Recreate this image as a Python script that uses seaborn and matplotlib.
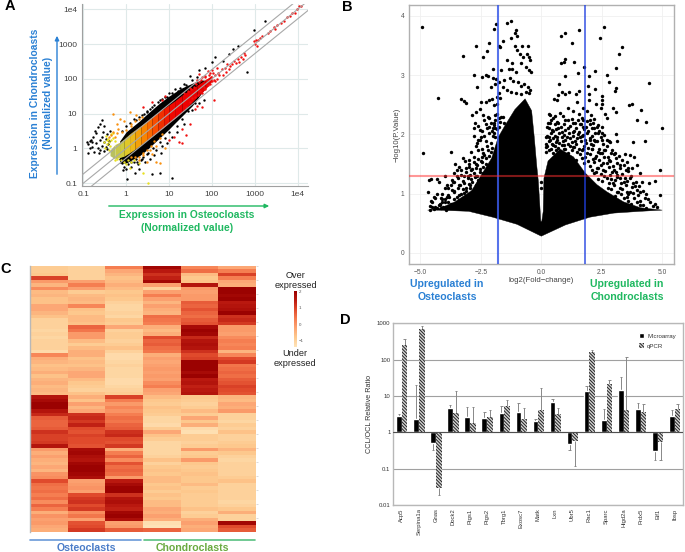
import numpy as np
import pandas as pd
import matplotlib
matplotlib.use("Agg")
import matplotlib.pyplot as plt
import seaborn as sns
from matplotlib.colors import LinearSegmentedColormap

# ---------- Panel A data ----------
grid_ticks_a = [0.1, 1, 10, 100, 1000, 10000]
grid_labels_a = ['0.1', '1', '10', '100', '1000', '1e4']
halo_x = [.7, 1, 1.5, 2, 3, 6, 10, 14, 20, 35, 60, 85]
halo_lo = [.38, .38, .5, .6, .9, 2, 3.6, 5.5, 8.5, 17, 42, 75]
halo_hi = [1.6, 3, 4.5, 6, 9.5, 20, 32, 42, 55, 75, 92, 90]
core_x = [.42, .55, .7, .9, 1.2, 1.6, 2.2, 3, 4, 5.5, 7.5, 10, 14, 20, 30, 45, 70, 100]
core_lo = [.62, .5, .55, .6, .75, .95, 1.25, 1.7, 2.2, 3, 4, 5.5, 7.5, 11, 18, 30, 50, 85]
core_hi = [.9, 1.3, 1.5, 1.9, 2.6, 3.4, 4.5, 6, 8, 11, 14, 18, 24, 34, 48, 65, 95, 125]
core_colors = ['#b8c060', '#c8c848', '#d0cc40', '#e0c828', '#ecb818', '#f4a008', '#f88400', '#f86800',
               '#f84c00', '#f03000', '#f01800', '#f00800', '#ee0000', '#ee0000', '#e80000', '#e80000', '#e80000']
black_x = [.13, .14, .12, .15, .17, .16, .18, .2, .2, .22, .24, .22, .25, .27, .27, .29, .3, .3, .33, .33, .28, .35, .36, .38, .4, .19, .16, .14, .24, .3, .42, .23, .13,
           .7, .8, .9, 1, .85, .95, 1.1, 1.2, 1.3, 1.5, 1.6, 1.7, 1.9, 2, 2.2, 2.5, 2.8, 3, 3.5, 4.5, 5, 6, 12, 1.05, 4, 7, 6.5, 9, 12, 15, 22, 35, 50, 65,
           .8, 1, 1.2, 1.5, 2, 2.6, 3, 3.5, 4.5, 6, 8, 10, 14, 22, 30, 50, 70, 115, 180, 310, 640, 950, 1700, 400, 250, 100,
           16, 25, 35, 45, 15, 20, 28, 40, 18, 12, 9, 7, 5.5, 4, 3, 2.3, 1.7, 8, 10, 6, 4.2, 3.2, 2.4, 1.8, 1.3]
black_y = [1.3, 1.0, 1.5, 1.8, 2.2, 1.1, .8, 1.4, 2.8, 4, 1.7, 1.0, .9, 1.2, 2.1, 3, 1.5, .85, 1.1, 1.9, 6.5, 2.6, .95, 1.3, 1.6, 3.2, 1.5, 1.6, 5.2, 4.5, 3.2, .75, .75,
           .5, .38, .3, .25, .24, .45, .35, .55, .3, .4, .2, .5, .35, .25, .45, .55, .4, .7, .5, .65, .9, .2, .14, .13, .18, 1.2, .75, 1.4, 2.2, 3, 5, 13, 20, 25,
           3.2, 4.5, 5.5, 7, 8, 10, 12, 14, 18, 24, 30, 38, 50, 70, 120, 175, 200, 420, 330, 730, 155, 2590, 4600, 900, 530, 300,
           45, 65, 90, 110, 4.5, 7, 12, 20, 55, 40, 30, 26, 22, 15, 11, 9, 6.5, 2, 3, 1.5, 1.0, .75, .5, .42, .4]
orange_x = [.5, .6, .7, .9, 1.2, 1.7, .5, .45, .65, .4, 1.3, 2, 2.5, 3, 4, 5, 6, 3.5, 5, 8,
            .55, .6, .8, 1, 1.3, 1.6, 2, 2.4, 3, 2.5, 2, 1.6, 1.3, 3.8, 4.5, 6, 7]
orange_y = [9.5, 5, 7, 6, 11, 9, 3, 2.4, 3.6, 2.2, 4.5, .45, .65, .4, .7, .4, .38, .9, 1.2, 1,
            2.2, 2.8, 3, 3.4, 5, 6, 7, 8, .9, .75, .55, .55, .55, 1.2, 1.6, 2, 2.6]
yellow_x = [.3, .35, .38, .42, .45, .33, .4, .55, .7, 1, 1.5, 2, 1.2, 2.5, .5, 3.3,
            .32, .36, .4, .44, .48, .5, .6, .75, .9, 1.1, 1.3, .55]
yellow_y = [1.5, 1.3, 1.9, 1.2, 2.6, 2.3, .9, .45, .6, .35, .45, .38, .28, .2, 2.8, .1,
            1.0, 1.7, 1.5, 1.8, 2.0, .7, .5, .45, .42, .48, .42, 1.6]
red_x = [2.5, 4, 7, 8, 17, 20, 25, 20, 13, 10, 30, 40, 110, 60, 45, 30, 45, 70, 50, 80, 100, 130,
         110, 120, 130, 140, 150, 170, 180, 200, 210, 230, 250, 270, 300, 330, 360, 400, 430, 480, 520, 560, 600,
         950, 1000, 1050, 1100, 1200, 1300, 1500, 2000, 2300, 2800, 3000, 3300, 4000, 4800, 5500, 6500, 7500, 8500, 9500, 11000, 12000,
         22, 25, 28, 30, 33, 35, 38, 40, 43, 48, 50, 52, 55, 60, 65, 68, 70, 75, 80, 85, 90, 95, 100, 105, 120, 90, 60, 40]
red_y = [15, 22, 25, 32, 1.5, 1.4, 2.5, 3.5, 2.2, 1.8, 5, 14, 25, 15, 17, 55, 90, 120, 140, 170, 180, 210,
         95, 130, 100, 150, 125, 190, 130, 210, 160, 260, 190, 240, 260, 330, 290, 360, 310, 420, 380, 560, 480,
         1200, 1000, 1300, 900, 1300, 1500, 1700, 2100, 2300, 3000, 2700, 3600, 4100, 4500, 6000, 6200, 7800, 8000, 10000, 12000, 12500,
         40, 16, 45, 22, 50, 28, 60, 30, 70, 35, 80, 45, 95, 40, 60, 110, 50, 90, 65, 130, 70, 110, 85, 150, 85, 150, 110, 75]
guide_x = [0.05, 20000]
guide_fold = [0.53, 1, 1.85]

# ---------- Panel B data ----------
solid_x = [-4.7, -4.26, -3.57, -2.88, -2.47, -2.05, -1.78, -1.5, -1.09, -.67, -.4, -.29, -.19, -.12, -.02, .02, .08, .11, .28, .78, 1.33, 1.81, 2.3, 2.71, 3.4, 4.1, 5.0,
           4.1, 3, 2, 1, 0, -1, -2, -3, -4.3]
solid_y = [.72, .74, .86, 1.05, 1.32, 1.6, 1.95, 2.15, 2.42, 2.6, 2.4, 1.95, 1.48, 1.2, .53, .53, .7, 1.26, 1.55, 1.75, 1.62, 1.35, 1.15, 1.03, .86, .76, .72,
           .70, .67, .60, .47, .28, .48, .60, .70, .72]
volcano_left_top_x = [-4.92, -4.26, -4.9, -3.23, -3.3, -3.2, -3.13, -3.72, -2.68, -2.4, -2.24, -2.15, -1.95, -1.88, -1.4, -1.24, -1.03, -1.08, -.99, -1.24, -1.58, -1.75, -1.72, -1.1, -1.02, -.8, -.88, -.77, -.55, -.6, -.5, -.45, -1.42, -1.2, -.85, -.62, -.52, -.42, -2.0, -1.65, -1.35, -1.2, -1.05, -2.77, -2.45, -2.3, -2.2, -1.98, -1.88, -1.75, -1.55, -1.3, -1.15, -.95, -.85, -.7, -.55, -.45, -2.1, -1.9, -2.65, -1.75, -1.6, -1.4, -1.25, -1.05, -.85, -.65, -.5,
             -2.5, -2.3, -2.15, -2.05, -1.95, -1.85, -1.7, -1.85, -2.55, -2.7, -2.85, -2.75, -2.78, -2.2, -2.55, -1.95, -2.0, -1.82, -1.65]
volcano_left_top_y = [3.82, 2.61, 1.68, 3.33, 2.6, 2.57, 2.53, 1.7, 3.49, 3.3, 3.4, 3.55, 3.78, 3.86, 3.88, 3.91, 3.77, 3.72, 3.66, 3.62, 3.57, 3.5, 3.48, 3.5, 3.42, 3.5, 3.35, 3.3, 3.5, 3.35, 3.3, 3.25, 3.25, 3.2, 3.2, 3.13, 3.09, 3.05, 3.1, 3.08, 3.1, 3.1, 3.05, 3.0, 2.97, 3.0, 2.98, 2.95, 2.93, 2.88, 2.92, 2.95, 2.9, 2.88, 2.82, 2.85, 2.8, 2.75, 2.8, 2.85, 2.8, 2.7, 2.8, 2.75, 2.72, 2.7, 2.68, 2.72, 2.7,
             2.55, 2.55, 2.58, 2.6, 2.5, 2.52, 2.62, 2.63, 2.43, 2.38, 2.32, 2.2, 2.1, 2.3, 2.08, 2.2, 2.1, 2.35, 2.3]
volcano_left_low_x = [-2.8, -2.55, -2.65, -1.9, -1.85, -2.1, -2.0, -2.35, -2.5, -2.7, -2.85, -3, -3.15, -3.25, -3.4, -3.55, -3.05, -3.2, -2.95, -3.35, -3.5, -3.65, -3.75, -4.0, -4.25, -4.3, -4.0, -3.6, -3.3, -3.5, -3.9, -4.0, -4.3, -4.15, -3.85, -4.6, -4.5, -4.55, -4.7, -4.55, -4.65, -3, -2.8, -2.6, -2.4, -2.2, -2.3, -2.7, -3.1, -2.5, -3.4, -2.9, -3.7]
volcano_left_low_y = [1.97, 1.9, 1.85, 1.95, 1.8, 1.7, 1.55, 1.65, 1.55, 1.5, 1.42, 1.45, 1.55, 1.6, 1.45, 1.5, 1.3, 1.3, 1.15, 1.15, 1.3, 1.2, 1.15, 1.3, 1.2, 1.24, 1.1, 1.05, 1.0, .95, .95, .9, 1.0, .92, .85, .72, .78, .88, 1.03, 1.24, 1.23, .95, 1.05, 1.2, 1.35, 1.45, 1.2, 1.3, 1.1, 1.05, .8, .85, .78]
volcano_right_x = [2.6, 2.43, 1.55, .97, .83, 1.26, 3.33, 3.22, 1, .92, .83, 1.37, 3.07, 1.77, 1.52, .98, 2.24, 1.96, 2.7, 2.79, 4.47, .72, 1.95, 2.23, 3.11, 3.05, 1.56, 1.44, 1.16, .85, .71, .96, .52, .64, 1.96, 1.96, 2.53, 2.53, 2.53, 2.27, 3.74, 3.62, 2.98, 3.09, 4.11, 3.95, 4.32, 4.98, 3.81, 4.29, 3.11, 3.12, 2.51, 4.91, 4.71, 4.91, 3.47, 3.67, 3.84, 3.54, 3.95, 3.6, 3.74, 4.09, 3.26, 4.16, 3.81, 4.47, 4.29, 3.67, 3.88, 3.54, 4.09,
             .31, .57, .78, 1.12, 1.33, 1.47, 1.72, 1.88, 2.46, 2.64, 2.71, .36, .64, 1.12, 1.4, 1.74, 2.02, 2.36, 2.5, .43, .71, .98, 1.33, 1.74, 2.09, 1.74, 2.5, 2.23, .3, .64, 1.05, 1.47, 2.02, 2.23, 2.78, .2, .5, .92, 1.33, 1.74, 2.09, 2.64, 2.92, 3.05, 2.43, 2.23, 2.78, 2.57, 2.36, 2.92, 3.12, 2.16, 2.71, 3.26, 2.98, 3.4, 3.19, 3.6, -.02, -.03]
volcano_right_y = [3.81, 3.62, 3.76, 3.71, 3.66, 3.54, 3.47, 3.36, 3.28, 3.23, 3.21, 3.23, 3.12, 3.14, 3.04, 2.99, 3.07, 2.98, 3, 2.88, 2.86, 2.85, 2.81, 2.76, 2.78, 2.73, 2.73, 2.68, 2.71, 2.71, 2.67, 2.68, 2.6, 2.58, 2.68, 2.58, 2.65, 2.58, 2.52, 2.52, 2.52, 2.5, 2.44, 2.38, 2.41, 2.25, 2.21, 2.1, 1.87, 1.89, 2.01, 1.89, 1.9, 1.4, 1.22, .97, 1.67, 1.65, 1.62, 1.54, 1.49, 1.43, 1.43, 1.34, 1.48, 1.2, 1.17, 1.17, .92, 1.26, 1.12, 1.03, 1.03,
             2.34, 2.31, 2.36, 2.44, 2.4, 2.55, 2.45, 2.4, 2.44, 2.35, 2.27, 2.2, 2.21, 2.24, 2.19, 2.24, 2.24, 2.16, 2.13, 2.07, 2.1, 2.07, 2.04, 2.13, 2.1, 1.99, 2.02, 2.02, 1.96, 1.96, 1.96, 1.93, 1.9, 1.88, 1.88, 1.79, 1.82, 1.82, 1.79, 1.76, 1.76, 1.73, 1.73, 1.68, 1.68, 1.6, 1.57, 1.51, 1.43, 1.37, 1.31, 1.34, 1.26, 1.26, 1.17, 1.2, 1.03, 1.0, 1.2, 1.1]
speckle_right_x = [.35, .5, .9, 1.25, 1.55, 1.7, 2.05, 2.2,
                   .28, .42, .7, 1.0, 1.3, 1.5, 1.65, 1.9, 2.15,
                   .25, .55, .8, .95, 1.2, 1.45, 1.6, 1.85, 2.0, 2.3,
                   .3, .48, .62, .85, 1.1, 1.35, 1.58, 1.75, 1.95, 2.2, 2.4,
                   .22, .4, .55, .75, .92, 1.15, 1.3, 1.5, 1.7, 1.9, 2.1, 2.35, 2.6,
                   .2, .35, .5, .65, .85, 1.0, 1.2, 1.4, 1.6, 1.8, 2.0, 2.2, 2.45, 2.7,
                   .18, .3, .45, .6, .75, .9, 1.1, 1.25, 1.45, 1.65, 1.85, 2.05, 2.3, 2.55, 2.85,
                   .25, .4, .55, .7, .85, 1.0, 1.2, 1.35, 1.55, 1.75, 1.95, 2.15, 2.4, 2.7,
                   .2, .33, .48, .62, .78, .95, 1.12, 1.28, 1.48, 1.68, 1.88, 2.1, 2.35, 2.6, 2.9,
                   1.6, 1.8, 2.0, 2.25, 2.5, 2.75, 3.0, 3.2,
                   1.45, 1.7, 1.92, 2.15, 2.4, 2.6, 2.85, 3.1, 3.35,
                   1.75, 2.0, 2.2, 2.45, 2.7, 2.95, 3.15, 3.4,
                   2.1, 2.3, 2.55, 2.8, 3.0, 3.25, 3.5,
                   2.25, 2.45, 2.65, 2.85, 3.1, 3.35, 3.6,
                   2.35, 2.6, 2.9, 3.15, 3.45, 3.7,
                   2.5, 2.8, 3.05, 3.3, 3.55, 3.9,
                   2.75, 3.0, 3.25, 3.5, 3.75, 4.05,
                   2.9, 3.15, 3.35, 3.65, 3.95, 4.2,
                   3.05, 3.3, 3.55, 3.8, 4.0, 4.35,
                   3.4, 3.6, 3.85, 4.1, 4.4,
                   3.7, 3.95, 4.2, 4.5, 4.7,
                   4.1, 4.35, 4.6, 4.8]
speckle_right_y = [2.33, 2.27, 2.31, 2.26, 2.34, 2.28, 2.32, 2.26,
                   2.2, 2.25, 2.19, 2.24, 2.2, 2.25, 2.18, 2.23, 2.19,
                   2.13, 2.17, 2.12, 2.18, 2.14, 2.11, 2.17, 2.13, 2.18, 2.12,
                   2.1, 2.05, 2.09, 2.04, 2.1, 2.06, 2.04, 2.09, 2.05, 2.1, 2.06,
                   1.98, 2.03, 1.97, 2.02, 1.99, 2.03, 1.97, 2.01, 1.98, 2.03, 1.97, 2.02, 1.99,
                   1.95, 1.9, 1.94, 1.91, 1.96, 1.9, 1.94, 1.89, 1.95, 1.91, 1.94, 1.9, 1.96, 1.91,
                   1.84, 1.88, 1.83, 1.87, 1.85, 1.89, 1.83, 1.87, 1.84, 1.88, 1.85, 1.83, 1.88, 1.84, 1.87,
                   1.81, 1.76, 1.8, 1.77, 1.82, 1.76, 1.8, 1.78, 1.75, 1.81, 1.77, 1.82, 1.76, 1.8,
                   1.7, 1.74, 1.69, 1.73, 1.71, 1.75, 1.69, 1.74, 1.7, 1.73, 1.69, 1.75, 1.7, 1.74, 1.69,
                   1.67, 1.62, 1.66, 1.63, 1.68, 1.62, 1.66, 1.63,
                   1.56, 1.6, 1.55, 1.59, 1.57, 1.61, 1.55, 1.6, 1.56,
                   1.52, 1.47, 1.53, 1.48, 1.51, 1.46, 1.52, 1.48,
                   1.4, 1.44, 1.39, 1.45, 1.4, 1.43, 1.39,
                   1.37, 1.33, 1.38, 1.32, 1.36, 1.33, 1.38,
                   1.25, 1.29, 1.24, 1.28, 1.26, 1.3,
                   1.22, 1.18, 1.23, 1.17, 1.21, 1.19,
                   1.1, 1.14, 1.09, 1.15, 1.11, 1.13,
                   1.07, 1.03, 1.08, 1.02, 1.06, 1.04,
                   .96, 1, .95, 1.01, .97, .99,
                   .92, .88, .93, .87, .91,
                   .82, .86, .81, .85, .83,
                   .8, .76, .79, .77]
speckle_left_x = [-2.4, -2.15, -1.9, -1.75, -1.6,
                  -2.35, -2.1, -1.9, -1.7, -1.55,
                  -2.6, -2.3, -2.15, -1.95, -1.75, -1.9,
                  -2.45, -2.25, -2.05, -1.85, -1.95,
                  -2.35, -2.15, -2.0, -2.5,
                  -2.3, -2.1, -2.6,
                  -2.7, -2.45, -2.25, -2.05,
                  -2.9, -2.6, -2.4, -2.2,
                  -2.8, -2.6, -2.3, -2.15, -3.0, -2.45,
                  -3.0, -2.8, -2.65, -2.45, -2.3,
                  -3.3, -3.1, -2.9, -2.7, -2.55, -2.4, -3.5,
                  -3.6, -3.3, -3.1, -2.95, -2.8, -2.65, -2.55,
                  -3.7, -3.45, -3.25, -3.05, -2.9, -2.75, -2.6,
                  -3.9, -3.6, -3.4, -3.2, -3.0, -2.85, -2.7,
                  -3.85, -3.7, -3.45, -3.25, -3.1, -2.95,
                  -4.1, -3.85, -3.6, -3.4, -3.2, -3.0,
                  -4.4, -4.1, -3.8, -3.6, -3.4, -3.2,
                  -4.5, -4.2, -4.0, -3.75, -3.55,
                  -4.6, -4.4, -4.25, -4.05, -3.85,
                  -4.45, -4.2, -3.95, -4.3, -4.1, -4.45, -4.15]
speckle_left_y = [2.33, 2.28, 2.32, 2.27, 2.3,
                  2.24, 2.2, 2.25, 2.21, 2.19,
                  2.14, 2.17, 2.12, 2.16, 2.13, 2.11,
                  2.06, 2.1, 2.05, 2.09, 2.03,
                  1.97, 2.02, 1.98, 1.95,
                  1.88, 1.85, 1.9,
                  1.8, 1.76, 1.81, 1.77,
                  1.7, 1.74, 1.69, 1.73,
                  1.62, 1.58, 1.6, 1.64, 1.57, 1.61,
                  1.5, 1.54, 1.49, 1.53, 1.5,
                  1.4, 1.44, 1.39, 1.43, 1.41, 1.45, 1.4,
                  1.35, 1.31, 1.36, 1.32, 1.34, 1.3, 1.36,
                  1.23, 1.27, 1.22, 1.26, 1.24, 1.28, 1.23,
                  1.15, 1.19, 1.14, 1.18, 1.16, 1.2, 1.15,
                  1.1, 1.06, 1.1, 1.07, 1.05, 1.09,
                  1.0, .97, 1.02, .98, 1.01, .96,
                  .93, .9, .94, .91, .89, .93,
                  .85, .82, .86, .83, .81,
                  .79, .77, .8, .78, .76,
                  .94, .81, .73, .76, .86, .74, .76]

# ---------- Panel C data ----------
col1 = [-.9, -.9, -.8, 1.0, -.1, -.5, .1, -.6, -.5, -.7, -.7, -.3, -.3, -.5, -.7, -1, -1, -1, -1.1, -1, -1.1, -1, -1, -1, -1.2, .2, -.4, -.5, -.7, -.6, -.4, -.7, -.5, -.4, -.6, -.5, -.6,
        1.6, 1.8, 2, 2, 1.6, 1.3, .7, .6, .6, .7, 1.2, 1, 1, 1.1, 1.6, -.1, -.4, -.2, -.4, -.5, -.3, -.5, 0, .1, .9, .5, .4, .5, .3, .5, .1, .6, .3, -.4, 0, -.2, -.1, -.3, -.4]
col2 = [-1, -1, -1, -1, -.2, .3, -.2, -.9, -.6, -.5, -.6, .2, -.7, -.8, -.6, -.6, -.7, .6, .4, -.1, -.1, -.6, -.9, -.6, -.4, -.4, -.7, -.6, -.7, -.5, -.3, -.3, -.6, -.8, -.9, -1, -.7,
        -.4, -.7, -.2, -.5, -.3, 1.2, 1.3, 1.1, 1.4, .9, .8, 1, .9, .9, .8, 1.8, 1.9, 1.7, 1.6, 1.9, 2, 2, 1.9, 1.7, -.2, -.1, 0, -.2, .9, 1.1, 1.2, .9, 1.1, .1, .4, -.2, .8, .9, 1.1]
col3 = [.3, -.3, -.5, -.7, -.6, -.4, -.6, -.8, -.7, -.8, -1, -1.1, -1.1, -1, -1.1, -.8, -.9, -.3, -1, -.9, -.9, -1, -.9, -.7, -1, -1.2, -1.2, -1.1, -1, -1.1, -1.1, -1.1, -1.2, -1.2, -1.1, -1, -.9,
        1, .3, -.1, .2, 0, .3, .5, .4, .6, .7, 1.2, 1.3, .9, .8, 1.1, -.4, .3, .6, .1, .8, .5, .6, .5, -.1, 1.5, 1.8, 2, 2, 1.2, 1.6, 1.7, 1.5, 1.4, 1.9, 2, 1.7, -.2, -.1, .7]
col4 = [1.9, 1.5, 1.2, 1.4, 1.9, -.2, -1, -.2, .3, -.2, -.5, -.2, -.4, -.5, .5, .4, .3, -.4, -.6, -.4, .9, .6, .7, .5, .4, -.4, -.2, -.3, -.2, -.1, -.2, -.1, -.2, .1, .3, -.2, -.3,
        -.6, -.8, -.9, -.7, -.8, -.9, -1.1, -1.1, -1.2, -.9, -.3, -.7, -.9, -1.1, -1.1, -1.1, -1.1, -1, -.7, -1, -.8, -.7, -.8, -.6, -.6, -.8, -.7, -.9, -.7, -.8, -.6, -.6, -.3, -.4, -.2, -.4, -1.3, -1.4, .6]
col5 = [.2, .5, -.6, -.8, -.7, 1.6, -.1, -.2, -.1, -.1, .7, .6, .8, .6, .5, .7, .8, 1.8, 2, 1.9, 1.3, 1.6, 1.7, 1.6, 1.2, .9, 1.0, 2, 2, 2, 1.8, 2, 1.5, 1.6, 1.4, 1.5, 1.6,
        -.8, -.9, -1, -.9, -.6, -.9, -.3, -.8, -.4, -1.2, -1.3, -.9, -.9, -1, -.9, -.1, -.9, -.8, -.1, -.8, -.9, -.8, -.7, -.8, -.8, -.6, -.9, -.8, -.9, -.9, -.9, -.9, -.7, -1, -.9, -.4, -.2, -.4, -.3]
col6 = [-.3, .3, 1.0, .3, -.3, -.4, 2, 2, 1.9, 2, 1.5, 1.6, 1.7, 2, 1.2, 1.3, 1.1, -.1, -.1, -.2, .1, .3, .2, .3, -.5, .2, .9, 1.1, .4, .5, .6, .5, .7, .8, 1, .9, .8,
        -.5, -.6, -.3, -.4, -.1, -1, -1, -1.1, -.9, -1, -.7, -1, -1, -.9, -.8, -.5, -.8, -1, -1.1, -1, -1, -1, -1, -.9, -.7, -1, -1, -1, -1, -1, -1.1, -1, -.8, -.4, -1, -1, 1.9, .9, .7]
heat_colors = ['#fee3b8', '#fdc98e', '#fca472', '#f57d50', '#e04a2c', '#bb1a10', '#990000']
cbar_ticks = [2, 1, 0, -1]

# ---------- Panel D data ----------
genes = ['Acp5', 'Serpina1a', 'Gnas', 'Dock2', 'Ptgs1', 'Ptgs2', 'Tbrg1', 'Exosc7', 'Matk', 'Lxn', 'Ubr5', 'Rac1', 'Sparc', 'Higd2a', 'Prdx5', 'Eif1', 'Ibsp']
microarray = [2.9, 2.4, .5, 4.6, 2.6, 2.5, 3.4, 3.6, 2.1, 6.9, .47, 14, 2.2, 15, 4.5, .3, 2.9]
microarray_err = [3.2, 20, .32, 5.8, 4.9, 3.6, 5.2, 6.6, 2.4, 8.4, .33, 19, 4.3, 33, 6.5, .17, 4.0]
qpcr = [260, 680, .03, 3.4, 1.8, 2.6, 5.4, 2.3, 4.0, 3.1, .58, 160, 21, 4, 3.6, .55, 4.3]
qpcr_err = [370, 850, .019, 13.5, 4.9, 4, 8, 4.8, 16.5, 4.7, .12, 190, 28, 120, 5.9, .17, 5.9]
ratio_ticks = [0.01, 0.1, 1, 10, 100, 1000]
ratio_labels = ['0.01', '0.1', '1', '10', '100', '1000']

# ---------- Layout ----------
W, H = 685, 552
sns.set_style("white")
plt.rcParams['font.family'] = ['Liberation Sans', 'DejaVu Sans']
plt.rcParams['hatch.linewidth'] = 0.7
fig = plt.figure(figsize=(W / 100, H / 100), dpi=100, facecolor='white')


def box(l, t, r, b):
    return fig.add_axes([l / W, 1 - b / H, (r - l) / W, (b - t) / H])


# ---------- A ----------
ax = box(82, 4, 308, 186)
ax.set_xscale('log')
ax.set_yscale('log')
ax.set_xlim(10 ** -1.03, 10 ** 4.24)
ax.set_ylim(10 ** -1.08, 10 ** 4.15)
ax.grid(True, color='#dfe9e9', lw=0.8)
ax.set_axisbelow(True)
for f in guide_fold:
    sns.lineplot(x=guide_x, y=[v * f for v in guide_x], ax=ax, color='#a8a8a8', lw=0.8, zorder=5)
ax.fill_between(halo_x, halo_lo, halo_hi, color='black', lw=0, zorder=2)
for i, c in enumerate(core_colors):
    ax.fill_between(core_x[i:i + 2], core_lo[i:i + 2], core_hi[i:i + 2], color=c, lw=0, zorder=3)
sns.scatterplot(x=black_x, y=black_y, ax=ax, color='black', s=3, lw=0, zorder=2)
sns.scatterplot(x=yellow_x, y=yellow_y, ax=ax, color='#e8e020', s=3, lw=0, zorder=2)
sns.scatterplot(x=orange_x, y=orange_y, ax=ax, color='#f89010', s=3, lw=0, zorder=2)
sns.scatterplot(x=red_x, y=red_y, ax=ax, color='#f01010', s=3, lw=0, zorder=4)
ax.set_xticks(grid_ticks_a, grid_labels_a)
ax.set_yticks(grid_ticks_a, grid_labels_a)
ax.minorticks_off()
ax.tick_params(labelsize=6, colors='#404040', length=2, pad=1.5, width=0.6)
for s in ['top', 'right']:
    ax.spines[s].set_visible(False)
for s in ['left', 'bottom']:
    ax.spines[s].set_color('#a0a0a0')

# ---------- B ----------
ax = box(409, 4.7, 674.3, 264)
ax.set_xlim(-5.47, 5.5)
ax.set_ylim(-0.19, 4.19)
ax.grid(True, color='#f0f0f0', lw=0.6)
ax.set_axisbelow(True)
ax.fill(solid_x, solid_y, color='black', lw=0.3, zorder=2)
for xs, ys in [(volcano_left_top_x, volcano_left_top_y), (volcano_left_low_x, volcano_left_low_y),
               (volcano_right_x, volcano_right_y), (speckle_right_x, speckle_right_y), (speckle_left_x, speckle_left_y)]:
    sns.scatterplot(x=xs, y=ys, ax=ax, color='black', s=6, lw=0, zorder=2)
ax.axvline(-1.8, color='#3a5ae8', lw=1.5, alpha=0.85, zorder=3)
ax.axvline(1.82, color='#2040e0', lw=1.1, alpha=0.9, zorder=3)
ax.axhline(1.3, color='#ff3030', lw=1.5, alpha=0.5, zorder=4)
ax.set_xticks([-5, -2.5, 0, 2.5, 5], ['\u22125.0', '\u22122.5', '0.0', '2.5', '5.0'])
ax.set_yticks([0, 1, 2, 3, 4])
ax.tick_params(labelsize=4.8, colors='#555555', length=2, pad=1.5, width=0.5)
ax.set_xlabel('log2(Fold\u2212change)', fontsize=5.6, color='#444444', labelpad=1)
ax.set_ylabel('\u2212log10(P.Value)', fontsize=5.6, color='#444444', labelpad=0)
for s in ax.spines.values():
    s.set_color('#b0b0b0')
    s.set_linewidth(1)

# ---------- C ----------
ax = box(30, 266, 256, 531.7)
cax = box(293.7, 291, 297.3, 346.7)
heat = pd.DataFrame({'OCL1': col1, 'OCL2': col2, 'OCL3': col3, 'CCL1': col4, 'CCL2': col5, 'CCL3': col6})
cmap = LinearSegmentedColormap.from_list('heat', heat_colors)
sns.heatmap(heat, ax=ax, cbar_ax=cax, cmap=cmap, vmin=-1.4, vmax=2.05, xticklabels=False, yticklabels=False,
            cbar_kws={'ticks': cbar_ticks})
cax.tick_params(labelsize=3.2, length=0, pad=1, colors='#555555')
ax.collections[0].colorbar.outline.set_visible(False)
ax.spines['left'].set_visible(True)
ax.spines['left'].set_color('#b8b8b8')
ax.spines['left'].set_linewidth(1)
ax.yaxis.set_ticks_position('right')
ax.set_yticks(range(0, len(col1), 4))
ax.set_yticklabels([])
ax.tick_params(axis='y', length=1.5, width=0.4, color='#c0c0c0', right=True, left=False)

# ---------- D ----------
ax = box(393.3, 323.3, 683.3, 505)
long_df = pd.DataFrame({
    'gene': genes * 2,
    'series': ['Microarray'] * len(genes) + ['qPCR'] * len(genes),
    'value': np.log10(microarray + qpcr),
})
sns.barplot(data=long_df, x='gene', y='value', hue='series', palette=['black', '#d4d4d4'], width=0.66, gap=0,
            ax=ax, errorbar=None, saturation=1, zorder=3)
bars = ax.patches[:2 * len(genes)]
for j, p in enumerate(bars):
    if j >= len(genes):
        p.set_hatch('\\' * 10)
        p.set_edgecolor('#222222')
        p.set_linewidth(0)
offset = 0.165
ex = np.arange(len(genes))
for sgn, vals, errs in [(-1, microarray, microarray_err), (1, qpcr, qpcr_err)]:
    ax.vlines(ex + sgn * offset, np.log10(vals), np.log10(errs), color='#888888', lw=0.7, zorder=2)
    ax.hlines(np.log10(errs), ex + sgn * offset - 0.07, ex + sgn * offset + 0.07, color='#888888', lw=0.7, zorder=2)
ax.set_xlim(-0.5, len(genes) - 0.5)
ax.set_ylim(-2, 3)
ax.set_yticks(np.log10(ratio_ticks), ratio_labels)
ax.yaxis.grid(True, color='#a0a0a0', lw=0.8)
ax.axhline(0, color='#505050', lw=0.8, zorder=4)
ax.set_axisbelow(True)
ax.tick_params(axis='y', labelsize=4.3, colors='#333333', length=0, pad=2)
ax.tick_params(axis='x', labelsize=4.2, colors='#333333', length=0, pad=2.5, rotation=90)
ax.set_xlabel('')
ax.set_ylabel('CCL/OCL Relative Ratio', fontsize=5.2, color='#333333')
ax.yaxis.set_label_coords(-0.07, 0.5)
for s in ax.spines.values():
    s.set_color('#b8b8b8')
    s.set_linewidth(1)
leg = ax.legend(loc='upper right', frameon=False, fontsize=4.4, handlelength=0.8, handleheight=0.8,
                borderaxespad=0.8, labelspacing=0.75, handletextpad=0.5, bbox_to_anchor=(1, 0.985))
handles = leg.get_patches()
handles[1].set_hatch('\\' * 10)
handles[1].set_edgecolor('#222222')
handles[1].set_linewidth(0)
for t in leg.get_texts():
    t.set_color('#333333')

# ---------- Overlay text ----------
ov = fig.add_axes([0, 0, 1, 1], facecolor='none')
ov.set_xlim(0, W)
ov.set_ylim(H, 0)
ov.axis('off')


def put(x, y, s, color='black', size=7.2, weight='bold', rot=0):
    ov.text(x, y, s, color=color, fontsize=size, fontweight=weight, rotation=rot, ha='center', va='center')


blue, green = '#2a80d4', '#1fb860'
put(10, 6, 'A', size=10.5)
put(347, 7, 'B', size=10.5)
put(6, 269, 'C', size=10.5)
put(345, 320, 'D', size=10.5)
put(35, 103, 'Expression in Chondrocloasts', blue, 7.4, rot=90)
put(48, 103, '(Normalized value)', blue, 7.4, rot=90)
put(187, 215, 'Expression in Osteocloasts', green, 7.4)
put(187, 228, '(Normalized value)', green, 7.4)
ov.annotate('', xy=(57, 33), xytext=(57, 177), arrowprops=dict(arrowstyle='-|>,head_width=0.12,head_length=0.25', color=blue, lw=1))
ov.annotate('', xy=(272, 206), xytext=(106, 206), arrowprops=dict(arrowstyle='-|>,head_width=0.12,head_length=0.25', color=green, lw=1))
put(447, 284, 'Upregulated in', '#2a80d4', 7.6)
put(447, 297, 'Osteoclasts', '#2a80d4', 7.6)
put(627, 284, 'Upregulated in', '#1fb860', 7.6)
put(627, 297, 'Chondroclasts', '#1fb860', 7.6)
ov.plot([30, 141], [540, 540], color='#6a9ad8', lw=1.2)
ov.plot([144, 255], [540, 540], color='#58c080', lw=1.2)
put(86, 548, 'Osteoclasts', '#4a7cc8', 7.6)
put(192, 548, 'Chondroclasts', '#6aaa40', 7.6)
put(296, 275, 'Over', '#222222', 6.6, 'normal')
put(296, 285.5, 'expressed', '#222222', 6.6, 'normal')
put(295, 353.5, 'Under', '#222222', 6.6, 'normal')
put(295, 364, 'expressed', '#222222', 6.6, 'normal')

fig.savefig('out.png', dpi=100)
